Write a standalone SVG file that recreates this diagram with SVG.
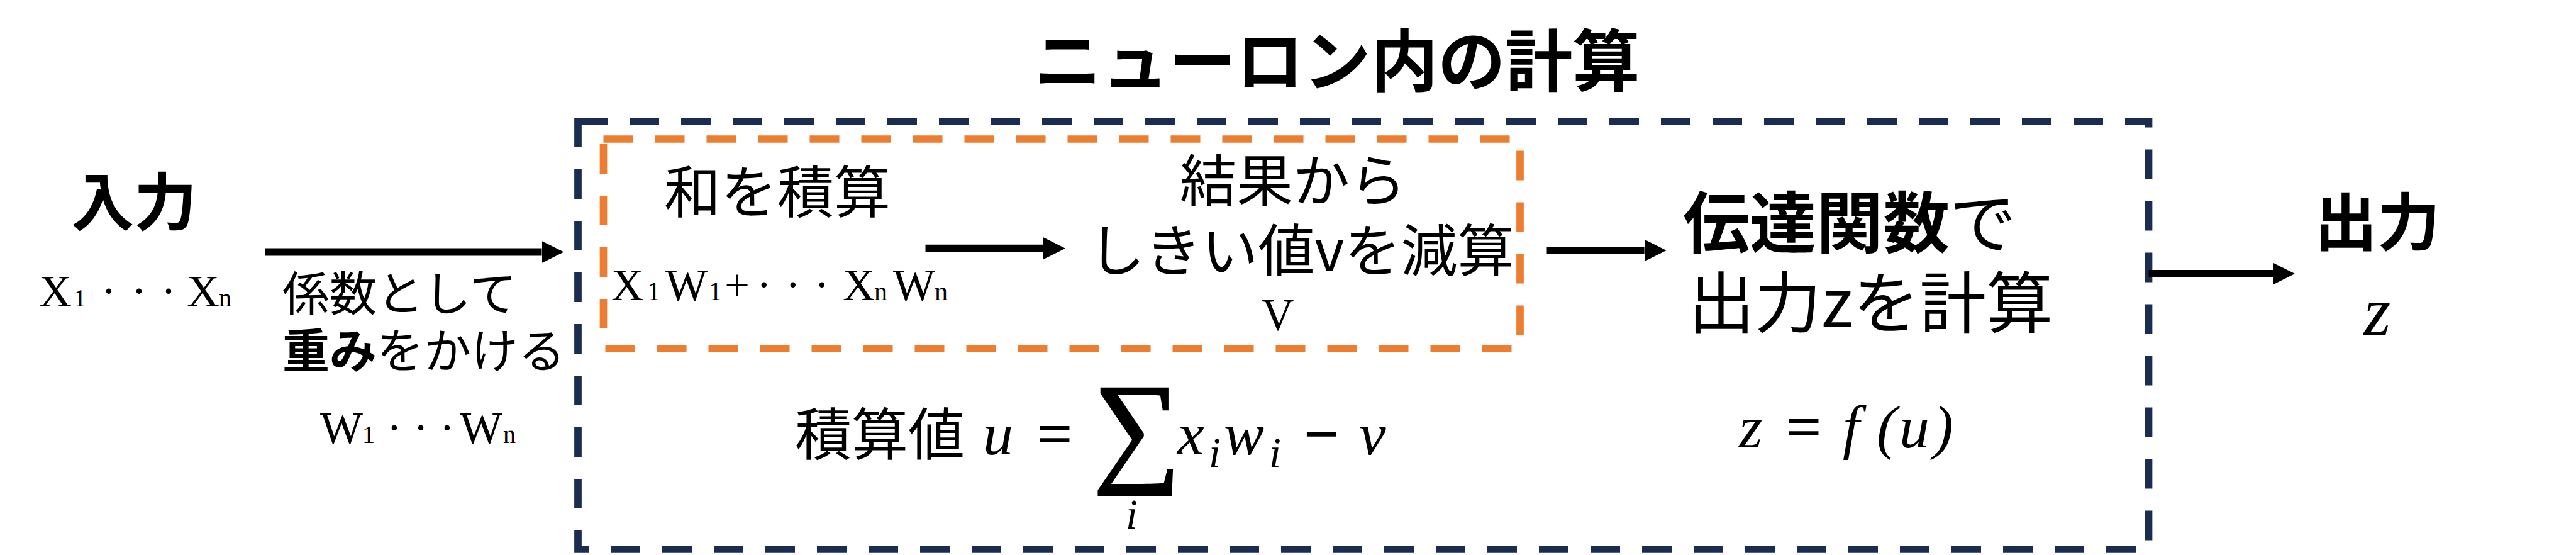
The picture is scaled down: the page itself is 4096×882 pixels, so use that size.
<svg xmlns="http://www.w3.org/2000/svg" width="4096" height="882" viewBox="0 0 4096 882">
<style>
.jp{font-family:"Noto Sans CJK JP","Noto Sans",sans-serif;fill:#000}
.b{font-weight:700}
.rm{font-family:"Liberation Serif","Times New Roman",serif;fill:#000}
.it{font-family:"Liberation Serif","Times New Roman",serif;font-style:italic;fill:#000}
.conn{stroke:#000;stroke-width:12;fill:none;marker-end:url(#ah)}
.navy{fill:none;stroke:#1a2c50;stroke-width:11.7;stroke-dasharray:47 35}
.orange{fill:none;stroke:#ED7D31;stroke-width:11.7;stroke-dasharray:47 35}
</style>
<defs>
<marker id="ah" markerUnits="userSpaceOnUse" markerWidth="35" markerHeight="35" viewBox="0 0 35 35" refX="0" refY="17.5" orient="auto"><path d="M0,0 L35,17.5 L0,35 z" fill="#000"/></marker>
</defs>
<rect width="4096" height="882" fill="#fff"/>
<g id="title"><text class="jp b" x="2126" y="136" font-size="107" text-anchor="middle">ニューロン内の計算</text></g>
<g id="neuron-box"><rect class="navy" x="919" y="193" width="2497.5" height="680"/></g>
<g id="sum-box"><rect class="orange" x="959.5" y="221" width="1457.5" height="333"/></g>
<g id="input">
<text class="jp b" x="213" y="358" font-size="100" text-anchor="middle">入力</text>
<text class="rm" y="487" font-size="72"><tspan x="62">X</tspan><tspan x="117" font-size="40">1</tspan><tspan x="161">·</tspan><tspan x="209">·</tspan><tspan x="256">·</tspan><tspan x="297">X</tspan><tspan x="348" font-size="40">n</tspan></text>
</g>
<g id="weights">
<text class="jp" x="449" y="494" font-size="75">係数として</text>
<text class="jp" x="449" y="585" font-size="75"><tspan class="b">重み</tspan>をかける</text>
<text class="rm" y="704" font-size="72"><tspan x="509">W</tspan><tspan x="576" font-size="40">1</tspan><tspan x="615">·</tspan><tspan x="657">·</tspan><tspan x="699">·</tspan><tspan x="731">W</tspan><tspan x="800" font-size="40">n</tspan></text>
</g>
<g id="sum">
<text class="jp" x="1236" y="338" font-size="90" text-anchor="middle">和を積算</text>
<text class="rm" y="477" font-size="71"><tspan x="972">X</tspan><tspan x="1029" font-size="42">1</tspan><tspan x="1058">W</tspan><tspan x="1127" font-size="42">1</tspan><tspan x="1152">+</tspan><tspan x="1203">·</tspan><tspan x="1249">·</tspan><tspan x="1295">·</tspan><tspan x="1340">X</tspan><tspan x="1390" font-size="42">n</tspan><tspan x="1420">W</tspan><tspan x="1486" font-size="42">n</tspan></text>
</g>
<g id="threshold">
<text class="jp" x="2056" y="320" font-size="90" text-anchor="middle">結果から</text>
<text class="jp" x="2069" y="431" font-size="90" text-anchor="middle">しきい値vを減算</text>
<text class="rm" x="2032" y="524" font-size="71" text-anchor="middle">V</text>
</g>
<g id="formula-u">
<text class="jp" x="1264" y="723" font-size="90">積算値</text>
<text class="it" y="722" font-size="96"><tspan x="1563">u</tspan></text>
<text class="rm" x="1650" y="722" font-size="96" stroke="#000" stroke-width="2">=</text>
<text class="rm" x="1738" y="745" font-size="195" stroke="#000" stroke-width="3">∑</text>
<text class="it" x="1790" y="840" font-size="68">i</text>
<text class="it" y="722" font-size="96"><tspan x="1872">x</tspan><tspan x="1922" y="742" font-size="68">i</tspan><tspan x="1946" y="722">w</tspan><tspan x="2018" y="742" font-size="68">i</tspan></text>
<text class="rm" x="2074" y="722" font-size="96" stroke="#000" stroke-width="2">−</text>
<text class="it" x="2161" y="722" font-size="96">v</text>
</g>
<g id="transfer">
<text class="jp" x="2676" y="393" font-size="106"><tspan class="b">伝達関数</tspan>で</text>
<text class="jp" x="2684" y="520" font-size="106">出力zを計算</text>
</g>
<g id="formula-z">
<text class="it" y="711" font-size="96"><tspan x="2765">z</tspan></text>
<text class="rm" x="2841" y="711" font-size="96" stroke="#000" stroke-width="2">=</text>
<text class="it" y="711" font-size="96"><tspan x="2930">f</tspan><tspan x="2984">(</tspan><tspan x="3020">u</tspan><tspan x="3074">)</tspan></text>
</g>
<g id="output">
<text class="jp b" x="3780" y="390" font-size="100" text-anchor="middle">出力</text>
<text class="it" x="3780" y="532" font-size="110" text-anchor="middle">z</text>
</g>
<g id="connectors">
<line class="conn" x1="421.5" y1="400.5" x2="861.5" y2="400.5"/>
<line class="conn" x1="1471.5" y1="394.7" x2="1659" y2="394.7"/>
<line class="conn" x1="2459.5" y1="398" x2="2614.6" y2="398"/>
<line class="conn" x1="3416.5" y1="435" x2="3614" y2="435"/>
</g>
</svg>
